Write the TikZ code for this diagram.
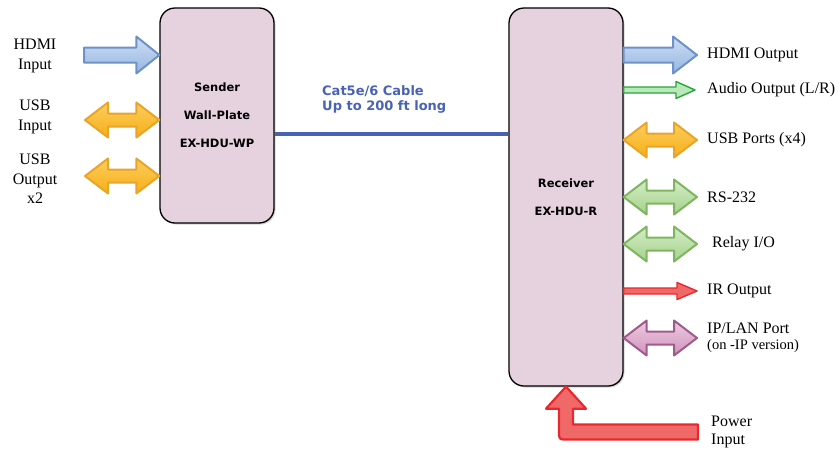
\documentclass[tikz,border=0pt]{standalone}
\usepackage{fontspec}
\setmainfont{Liberation Serif}
\newfontfamily\boxfont{DejaVu Sans}
\usetikzlibrary{positioning,calc,shadows}

\definecolor{boxpink}{RGB}{230,210,223}
\definecolor{cableblue}{RGB}{72,98,180}
\definecolor{hdmiline}{RGB}{110,145,200}
\definecolor{hdmifill}{RGB}{150,182,225}
\definecolor{hdmitop}{RGB}{205,222,244}
\definecolor{usbline}{RGB}{232,165,40}
\definecolor{usbfill}{RGB}{247,174,22}
\definecolor{usbtop}{RGB}{252,206,95}
\definecolor{ctrlline}{RGB}{125,182,95}
\definecolor{ctrlfill}{RGB}{165,210,140}
\definecolor{ctrltop}{RGB}{212,236,198}
\definecolor{audioline}{RGB}{40,165,60}
\definecolor{audiofill}{RGB}{185,232,185}
\definecolor{irline}{RGB}{232,40,45}
\definecolor{irfill}{RGB}{240,105,105}
\definecolor{lanline}{RGB}{160,90,140}
\definecolor{lanfill}{RGB}{208,148,188}
\definecolor{lantop}{RGB}{236,202,224}

% block arrow: style, tail, tip, shaft half, head half, head length
\newcommand{\singleblock}[6]{%
  \draw[#1] let \p1=(#2), \p2=(#3) in
    (\x1,\y1+#4pt) -- (\x2-#6pt,\y1+#4pt) -- (\x2-#6pt,\y1+#5pt) -- (\x2,\y1)
    -- (\x2-#6pt,\y1-#5pt) -- (\x2-#6pt,\y1-#4pt) -- (\x1,\y1-#4pt) -- cycle;}
% two headed block arrow, same arguments
\newcommand{\doubleblock}[6]{%
  \draw[#1] let \p1=(#2), \p2=(#3) in
    (\x1,\y1) -- (\x1+#6pt,\y1+#5pt) -- (\x1+#6pt,\y1+#4pt) -- (\x2-#6pt,\y1+#4pt)
    -- (\x2-#6pt,\y1+#5pt) -- (\x2,\y1) -- (\x2-#6pt,\y1-#5pt) -- (\x2-#6pt,\y1-#4pt)
    -- (\x1+#6pt,\y1-#4pt) -- (\x1+#6pt,\y1-#5pt) -- cycle;}

\begin{document}
\begin{tikzpicture}[
    x=1pt, y=-1pt,
    device/.style = {draw=black, line width=1.3pt, rounded corners=15pt, fill=boxpink,
      minimum width=114pt, align=center,
      drop shadow={shadow xshift=1.5pt, shadow yshift=-1.5pt, opacity=0.35},
      font=\boxfont\bfseries\fontsize{11.5}{28}\selectfont},
    lbltext/.style = {inner sep=0pt, font=\fontsize{16}{19.5}\selectfont},
    cabletext/.style = {inner sep=0pt, align=left, text=cableblue,
      font=\boxfont\bfseries\fontsize{13}{15}\selectfont},
    cable/.style = {draw=cableblue, line width=4.5pt},
    hdmi/.style = {draw=hdmiline, line width=2pt, line join=round, top color=hdmitop, bottom color=hdmifill},
    usb/.style = {draw=usbline, line width=2pt, line join=round, top color=usbtop, bottom color=usbfill},
    ctrl/.style = {draw=ctrlline, line width=2pt, line join=round, top color=ctrltop, bottom color=ctrlfill},
    lan/.style = {draw=lanline, line width=2pt, line join=round, top color=lantop, bottom color=lanfill},
    audio/.style = {draw=audioline, line width=1.4pt, line join=round, fill=audiofill},
    ir/.style = {draw=irline, line width=1.4pt, line join=round, fill=irfill},
    pwr/.style = {draw=irline, line width=2.2pt, line join=round, fill=irfill}
    ]
    \useasboundingbox (0,0) rectangle (839,453);

    % the two boxes and the cable
    \node[device, minimum height=215pt] (sender) at (217,115.5) {Sender\\Wall-Plate\\EX-HDU-WP};
    \node[device, minimum height=378pt] (receiver) at (566,197) {Receiver\\EX-HDU-R};
    \coordinate (cabley) at (0,134);
    \draw[cable] (sender.east |- cabley) -- (receiver.west |- cabley);
    \node[cabletext, anchor=west] (cablelbl) at (322,99.5) {Cat5e/6 Cable\\Up to 200 ft long};

    % sender side
    \coordinate (hdmiin) at (84,55);
    \coordinate (usbin) at (85,120);
    \coordinate (usbout) at (85,176);
    \singleblock{hdmi}{hdmiin}{hdmiin -| sender.west}{7.5}{18.5}{23}
    \doubleblock{usb}{usbin}{usbin -| sender.west}{6.5}{17.5}{23}
    \doubleblock{usb}{usbout}{usbout -| sender.west}{6.5}{17.5}{23}
    \node[lbltext, align=center] (hdmiinlbl) at (35,56) {HDMI\\Input};
    \node[lbltext, align=center] (usbinlbl) at (35,117) {USB\\Input};
    \node[lbltext, align=center] (usboutlbl) at (35,179) {USB\\Output\\x2};

    % receiver side
    \coordinate (hdmiout) at (697,55);
    \coordinate (audioout) at (695,90);
    \coordinate (usbports) at (697,140);
    \coordinate (rs232) at (697,197);
    \coordinate (relay) at (697,244);
    \coordinate (irout) at (697,291);
    \coordinate (lanport) at (697,338);
    \coordinate (power) at (698,432);
    \singleblock{hdmi}{receiver.east |- hdmiout}{hdmiout}{7.5}{18.5}{24}
    \singleblock{audio}{receiver.east |- audioout}{audioout}{3}{8.5}{19}
    \doubleblock{usb}{receiver.east |- usbports}{usbports}{6.5}{17.5}{23}
    \doubleblock{ctrl}{receiver.east |- rs232}{rs232}{6.5}{17.5}{23}
    \doubleblock{ctrl}{receiver.east |- relay}{relay}{6.5}{17.5}{23}
    \singleblock{ir}{receiver.east |- irout}{irout}{3}{8.5}{20}
    \doubleblock{lan}{receiver.east |- lanport}{lanport}{6.5}{17.5}{23}
    \draw[pwr] let \p1=(receiver.south), \p2=(power) in
        (\x1,\y1) -- (\x1+20pt,\y1-22pt) -- (\x1+7pt,\y1-22pt) -- (\x1+7pt,\y2+7.5pt)
        -- (\x2,\y2+7.5pt) -- (\x2,\y2-7.5pt) -- (\x1+1pt,\y2-7.5pt)
        .. controls (\x1-7pt,\y2-7.5pt) .. (\x1-7pt,\y2+0.5pt)
        -- (\x1-7pt,\y1-22pt) -- (\x1-20pt,\y1-22pt) -- cycle;

    \node[lbltext, right=10pt of hdmiout] (hdmioutlbl) {HDMI Output};
    \node[lbltext, right=12pt of audioout] (audiolbl) {Audio Output (L/R)};
    \node[lbltext, right=10pt of usbports] (usbportslbl) {USB Ports (x4)};
    \node[lbltext, right=10pt of rs232] (rs232lbl) {RS-232};
    \node[lbltext, right=15pt of relay] (relaylbl) {Relay I/O};
    \node[lbltext, right=10pt of irout] (iroutlbl) {IR Output};
    \node[lbltext, right=10pt of lanport, align=left, font=\fontsize{16}{16.5}\selectfont]
        (lanlbl) {IP/LAN Port\\{\fontsize{14.5}{16}\selectfont (on -IP version)}};
    \node[lbltext, right=13pt of power, align=left, font=\fontsize{16}{18}\selectfont]
        (powerlbl) {Power\\Input};
\end{tikzpicture}
\end{document}
